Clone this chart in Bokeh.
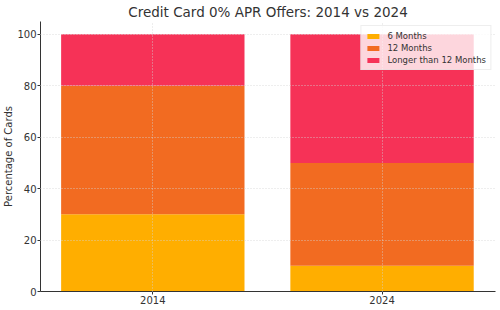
from bokeh.plotting import figure
from bokeh.models import ColumnDataSource, FixedTicker, Legend
from bokeh.embed import file_html
from bokeh.resources import INLINE

years = ["2014", "2024"]
six_months = [30, 10]
twelve_months = [50, 40]
longer_than_12 = [20, 50]
series_names = ["6 Months", "12 Months", "Longer than 12 Months"]
colors = ["#FFAE00", "#F26B21", "#F63257"]
y_ticks = [0, 20, 40, 60, 80, 100]

xpos = list(range(len(years)))
source = ColumnDataSource(dict(x=xpos, s6=six_months, s12=twelve_months, sl=longer_than_12))

FONT = "DejaVu Sans"
p = figure(width=500, height=310, output_backend="svg", toolbar_location=None,
           x_range=(-0.49, 1.495), y_range=(0, 105),
           title="Credit Card 0% APR Offers: 2014 vs 2024")
p.min_border_left = 0
p.min_border_right = 5
p.min_border_bottom = 19
p.min_border_top = 0
p.outline_line_color = None
p.background_fill_color = "white"

p.title.align = "center"
p.title.text_font = FONT
p.title.text_font_style = "normal"
p.title.text_font_size = "13.5px"
p.title.text_color = "#333333"
p.title.standoff = 3
p.title.offset = 0

renderers = p.vbar_stack(["s6", "s12", "sl"], x="x", width=0.8, source=source,
                         color=colors, line_color=None)

p.xaxis.ticker = FixedTicker(ticks=xpos)
p.xaxis.major_label_overrides = {i: y for i, y in enumerate(years)}
p.yaxis.ticker = FixedTicker(ticks=y_ticks)
p.yaxis.axis_label = "Percentage of Cards"

for ax in (p.xaxis[0], p.yaxis[0]):
    ax.axis_line_color = "#333333"
    ax.major_tick_line_color = "#333333"
    ax.major_tick_out = 3
    ax.major_tick_in = 0
    ax.minor_tick_line_color = None
    ax.major_label_text_font = FONT
    ax.major_label_text_font_size = "10px"
    ax.major_label_text_color = "#333333"
    ax.major_label_standoff = 1
    ax.axis_label_text_font = FONT
    ax.axis_label_text_font_size = "10px"
    ax.axis_label_text_font_style = "normal"
    ax.axis_label_text_color = "#333333"
    ax.axis_label_standoff = 0

for g in (p.xgrid[0], p.ygrid[0]):
    g.grid_line_color = "#d4d4d4"
    g.grid_line_dash = "1 2"
    g.grid_line_width = 0.8
    g.level = "overlay"
p.xgrid.ticker = FixedTicker(ticks=xpos)
p.ygrid.ticker = FixedTicker(ticks=y_ticks)

legend = Legend(items=[(n, [r]) for n, r in zip(series_names, renderers)],
                location="top_right")
legend.label_text_font = FONT
legend.label_text_font_size = "8.5px"
legend.label_text_color = "#333333"
legend.glyph_width = 15
legend.glyph_height = 6
legend.label_height = 11
legend.spacing = 1
legend.padding = 4
legend.margin = 4
legend.label_standoff = 7
legend.background_fill_alpha = 0.8
legend.border_line_color = "#dddddd"
legend.border_line_width = 1
p.add_layout(legend)

open("out.html", "w").write(file_html(p, INLINE))
